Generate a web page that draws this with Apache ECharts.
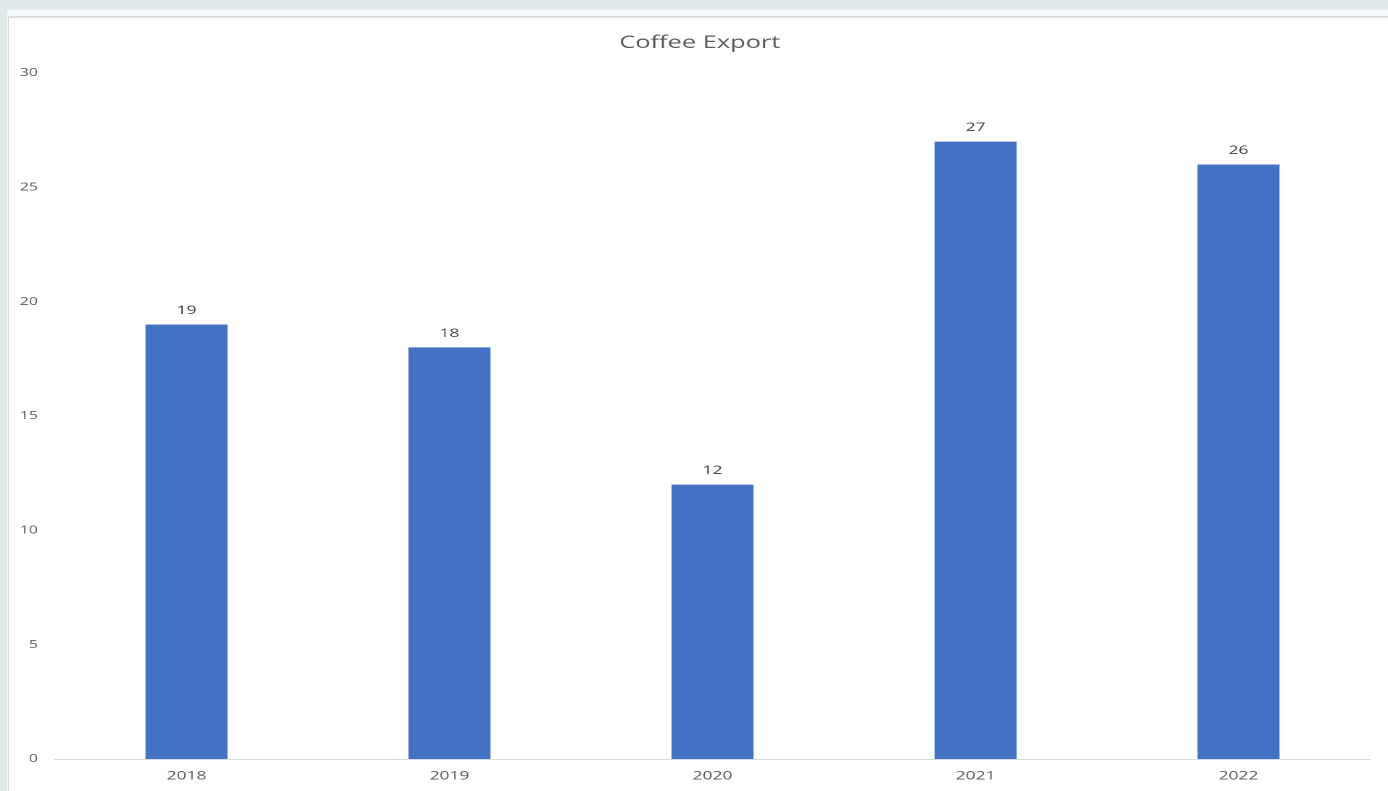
<!DOCTYPE html>
<html>
<head>
<meta charset="utf-8">
<script src="https://cdn.jsdelivr.net/npm/echarts@6/dist/echarts.min.js"></script>
<style>
html,body{margin:0;padding:0;width:1388px;height:791px;overflow:hidden;background:#e0eaea;}
#frame{position:absolute;left:7px;top:10px;width:1381px;height:781px;background:#f6f9f9;}
#inner{position:absolute;left:8px;top:16px;width:1380px;height:775px;background:#fff;border-top:2px solid #dcdfdf;border-left:1px solid #d3d8d8;box-sizing:border-box;}
#chart{position:absolute;left:0;top:0;width:957px;height:791px;transform-origin:0 0;transform:scaleX(1.4504);}
</style>
</head>
<body>
<div id="frame"></div>
<div id="inner"></div>
<div id="chart"></div>
<script>
const categories = ['2018', '2019', '2020', '2021', '2022'];
const values = [19, 18, 12, 27, 26];
const title = 'Coffee Export';

const FONT = 'Open Sans';
const S = 1.4504; // horizontal stretch of the reference picture
const chart = echarts.init(document.getElementById('chart'), null, {renderer: 'canvas', devicePixelRatio: 2});
chart.setOption({
  backgroundColor: 'transparent',
  animation: false,
  title: {
    text: title,
    left: 612 / S,
    top: 29,
    textStyle: {color: '#595959', fontSize: 17.5, fontWeight: 'normal', fontFamily: FONT}
  },
  grid: {left: 55 / S, right: 18 / S, top: 73, bottom: 32, containLabel: false},
  xAxis: {
    type: 'category',
    data: categories,
    axisLine: {lineStyle: {color: '#d9d9d9', width: 1}},
    axisTick: {show: false},
    axisLabel: {color: '#595959', fontSize: 12, fontFamily: FONT, margin: 11}
  },
  yAxis: {
    type: 'value',
    min: 0,
    max: 30,
    interval: 5,
    splitLine: {show: false},
    axisLine: {show: false},
    axisTick: {show: false},
    axisLabel: {color: '#595959', fontSize: 11, fontFamily: FONT, margin: 17 / S}
  },
  series: [{
    type: 'bar',
    data: values,
    barWidth: 82 / S,
    itemStyle: {color: '#4472c4'},
    label: {show: true, position: 'top', distance: 8, color: '#404040', fontSize: 12, fontFamily: FONT}
  }]
});
</script>
</body>
</html>
